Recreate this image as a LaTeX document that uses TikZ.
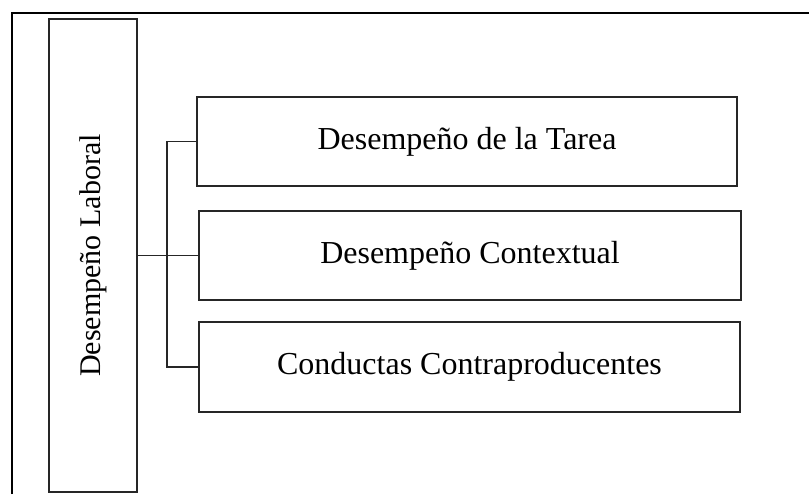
\documentclass[tikz,border=0pt]{standalone}
\usepackage{fontspec}
\setmainfont{Liberation Serif}
\usetikzlibrary{positioning}

\tikzset{
  dimbox/.style={draw=black!85, line width=1.2pt, rectangle, inner sep=0pt,
    minimum height=67pt, font=\fontsize{24}{28}\selectfont},
  mainbox/.style={dimbox, minimum width=66pt, minimum height=354.75pt,
    font=\fontsize{22.5}{27}\selectfont},
  branch/.style={draw=black!85, line width=1.1pt}
}

\begin{document}
\begin{tikzpicture}[x=0.75pt, y=-0.75pt]
  \useasboundingbox (0,0) rectangle (809,494);
  % frame of the figure
  \draw[line width=1.3pt] (12,494) -- (12,13) -- (809,13);

  \node[mainbox] (laboral) at (93,255.5) {\rotatebox{90}{Desempeño Laboral}};

  \node[dimbox, minimum width=405pt] (tarea) at (467,141.5) {Desempeño de la Tarea};
  \node[dimbox, minimum width=406.5pt] (contextual) at (470,255.5) {Desempeño Contextual};
  \node[dimbox, minimum width=405.75pt, minimum height=67.5pt] (contra) at (469.5,367) {Conductas Contraproducentes};

  % connectors
  \coordinate (joint) at (167,255.5);
  \draw[branch] (laboral.east) -- (joint);
  \draw[branch] (joint) |- (tarea.west);
  \draw[branch] (joint) -- (contextual.west);
  \draw[branch] (joint) |- (contra.west);
\end{tikzpicture}
\end{document}
